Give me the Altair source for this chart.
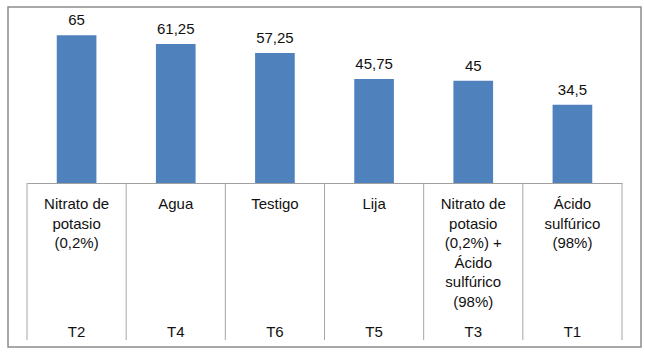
import altair as alt
import pandas as pd

categorias = ["Nitrato de\npotasio\n(0,2%)", "Agua", "Testigo", "Lija",
              "Nitrato de\npotasio\n(0,2%) +\nÁcido\nsulfúrico\n(98%)",
              "Ácido\nsulfúrico\n(98%)"]
codigos = ["T2", "T4", "T6", "T5", "T3", "T1"]
valores = [65, 61.25, 57.25, 45.75, 45, 34.5]

df = pd.DataFrame({"cat": categorias, "cod": codigos, "valor": valores})

W, H = 595, 159
FONT = "Liberation Sans"

xscale = alt.Scale(domain=categorias, paddingInner=0, paddingOuter=0)
x_axis = alt.Axis(title=None, ticks=False, labels=False,
                  domainColor="#a0a0a0", domainWidth=1)

base = alt.Chart(df)

bars = base.mark_bar(color="#4F81BD", width=alt.RelativeBandSize(0.4)).encode(
    x=alt.X("cat:N", scale=xscale, axis=x_axis, sort=categorias),
    y=alt.Y("valor:Q", scale=alt.Scale(domain=[0, 70]), axis=None),
)

labels = base.transform_calculate(
    lab="replace(toString(datum.valor), '.', ',')"
).mark_text(font=FONT, fontSize=15, dy=-10, baseline="alphabetic", color="#111111").encode(
    x=alt.X("cat:N", scale=xscale, sort=categorias),
    y=alt.Y("valor:Q"),
    text="lab:N",
)

seps = base.mark_rule(color="#a6a6a6", strokeWidth=1, clip=False).encode(
    x=alt.X("cat:N", scale=xscale, sort=categorias, bandPosition=0),
    y=alt.value(H),
    y2=alt.value(H + 157),
)
last_sep = alt.Chart(df.tail(1)).mark_rule(color="#a6a6a6", strokeWidth=1, clip=False).encode(
    x=alt.X("cat:N", scale=xscale, sort=categorias, bandPosition=1),
    y=alt.value(H),
    y2=alt.value(H + 157),
)

names = base.mark_text(font=FONT, fontSize=15, baseline="top", align="center",
                       lineBreak="\n", lineHeight=19.5, color="#111111").encode(
    x=alt.X("cat:N", scale=xscale, sort=categorias),
    y=alt.value(H + 14),
    text="cat:N",
)

codes = base.mark_text(font=FONT, fontSize=15, baseline="middle", color="#111111").encode(
    x=alt.X("cat:N", scale=xscale, sort=categorias),
    y=alt.value(H + 149),
    text="cod:N",
)

frame = alt.Chart(df.head(1)).mark_rect(
    fill=None, fillOpacity=0, stroke="#8c8c8c", strokeWidth=1.5, clip=False
).encode(
    x=alt.value(-19), x2=alt.value(614), y=alt.value(-17), y2=alt.value(323)
)

chart = alt.layer(frame, seps, last_sep, bars, labels, names, codes).properties(
    width=W, height=H,
    autosize=alt.AutoSizeParams(type="none"),
    padding={"left": 27, "top": 24, "right": 23, "bottom": 169},
    background="white",
).configure_view(stroke=None)

chart.save("out.html", embed_options={"renderer": "svg", "actions": False})
